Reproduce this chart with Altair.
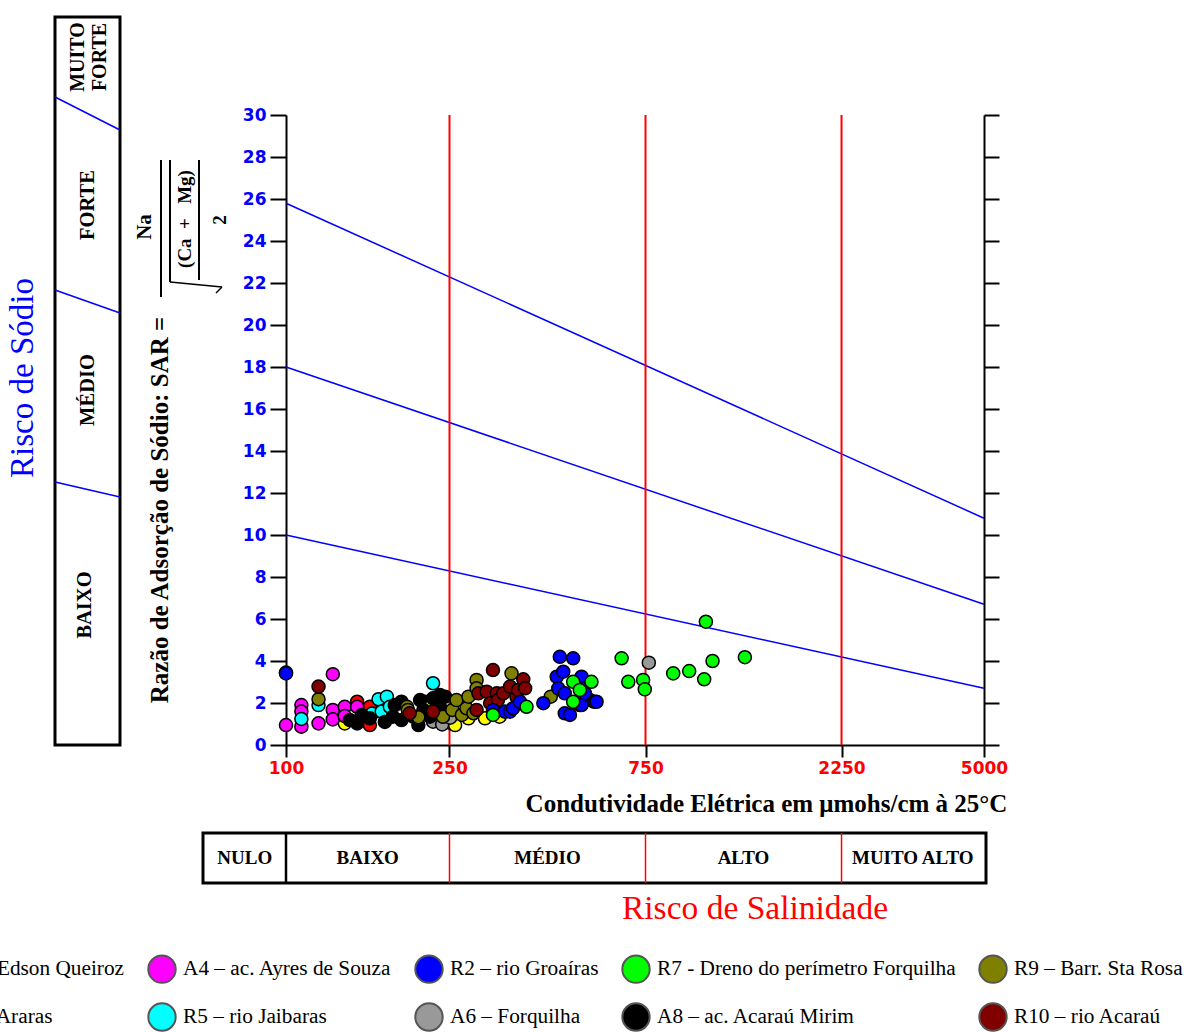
import altair as alt
import numpy as np
import pandas as pd

SERIF = "Liberation Serif"
SANS = "DejaVu Sans"
NBSP = "\u00a0"

# Sampling sites, in legend order (row by row) and their colours
sites = [
    "A1 – ac. Edson Queiroz", "A4 – ac. Ayres de Souza", "R2 – rio Groaíras",
    "R7 - Dreno do perímetro Forquilha", "R9 – Barr. Sta Rosa",
    "A3 – ac. Araras", "R5 – rio Jaibaras", "A6 – Forquilha",
    "A8 – ac. Acaraú Mirim", "R10 – rio Acaraú",
]
site_colors = [
    "#FFFF00", "#FF00FF", "#0000FF", "#00FF00", "#808000",
    "#FF0000", "#00FFFF", "#999999", "#000000", "#800000",
]

# Electrical conductivity (umhos/cm at 25 C) and SAR of each sample
ec_a1 = [100, 139, 218, 253, 258, 278, 305, 331]
sar_a1 = [3.45, 1.03, 2.06, 1.03, 0.95, 1.27, 1.27, 1.35]

ec_a3 = [149, 160, 160, 172]
sar_a3 = [2.06, 1.82, 0.95, 1.59]

ec_a6 = [228, 240, 251, 764]
sar_a6 = [1.11, 0.98, 1.30, 3.92]

ec_a4 = [100, 109, 109, 109, 120, 130, 130, 130, 139, 139, 149]
sar_a4 = [0.95, 1.90, 1.59, 0.87, 1.03, 3.37, 1.67, 1.22, 1.82, 1.38, 1.82]

ec_r5 = [109, 120, 162, 168, 171, 176, 179, 228]
sar_r5 = [1.24, 1.90, 1.50, 2.18, 1.59, 2.30, 1.82, 2.94]

ec_a8 = [143, 149, 153, 160, 174, 182, 184, 191, 191, 204,
         210, 212, 216, 224, 228, 233, 237, 237, 241, 244]
sar_a8 = [1.19, 1.03, 1.43, 1.27, 1.10, 1.35, 1.90, 2.06, 1.19, 1.35,
          0.95, 2.14, 1.67, 1.35, 2.22, 2.06, 2.38, 1.82, 1.35, 2.30]

ec_r9 = [120, 197, 198, 210, 241, 254, 260, 268, 275, 278, 286, 291, 291, 354, 441, 549]
sar_r9 = [2.18, 1.82, 1.67, 1.32, 1.35, 1.67, 2.14, 1.43, 1.75, 2.30, 1.51, 3.10, 2.70, 3.41, 2.30, 2.14]

ec_r10 = [120, 200, 228, 291, 294, 308, 314, 319, 326, 328, 338, 351, 364, 367, 378, 382]
sar_r10 = [2.78, 1.51, 1.59, 1.67, 2.46, 2.54, 1.99, 3.57, 2.46, 2.14, 2.46, 2.78, 2.30, 2.62, 3.13, 2.70]

ec_r2 = [100, 319, 341, 351, 357, 371, 423, 456, 460, 464, 473,
         477, 477, 491, 500, 519, 524, 524, 529, 534, 563, 570]
sar_r2 = [3.41, 1.67, 1.59, 1.59, 1.75, 2.06, 1.99, 3.25, 2.70, 4.20, 3.49,
          2.46, 1.51, 1.43, 4.13, 1.90, 3.25, 1.90, 2.70, 2.46, 2.06, 2.06]

ec_r7 = [319, 385, 500, 500, 519, 554, 656, 681, 740, 747, 876, 958, 1042, 1052, 1092, 1309]
sar_r7 = [1.43, 1.82, 3.01, 2.06, 2.62, 3.01, 4.13, 3.01, 3.10, 2.65, 3.41, 3.52, 3.13, 5.87, 4.00, 4.18]

# Sodium hazard boundaries: SAR at EC = 100 and at EC = 5000
ec_ends = [100, 5000]
sodium_low = [10.0, 18.0, 25.8]
sodium_high = [2.7, 6.7, 10.8]

# Salinity hazard class limits and names
salinity_limits = [250, 750, 2250]
class_lo = [63, 100, 250, 750, 2250]
class_hi = [100, 250, 750, 2250, 5000]
class_names = ["NULO", "BAIXO", "MÉDIO", "ALTO", "MUITO ALTO"]

# ---------------------------------------------------------------- tables
draw_order = [
    (sites[0], ec_a1, sar_a1), (sites[5], ec_a3, sar_a3), (sites[7], ec_a6, sar_a6),
    (sites[1], ec_a4, sar_a4), (sites[6], ec_r5, sar_r5), (sites[8], ec_a8, sar_a8),
    (sites[4], ec_r9, sar_r9), (sites[9], ec_r10, sar_r10), (sites[2], ec_r2, sar_r2),
    (sites[3], ec_r7, sar_r7),
]
points = pd.concat(
    [pd.DataFrame({"site": n, "ec": e, "sar": s}) for n, e, s in draw_order],
    ignore_index=True,
)

bounds = pd.DataFrame(
    [{"limit": i, "ec": ec_ends[0], "sar": lo} for i, lo in enumerate(sodium_low)]
    + [{"limit": i, "ec": ec_ends[1], "sar": hi} for i, hi in enumerate(sodium_high)]
)
limits = pd.DataFrame({"ec": salinity_limits})
classes = pd.DataFrame({
    "name": class_names,
    "ec": np.sqrt(np.array(class_lo) * np.array(class_hi)),
})

W, H = 698, 630

x_enc = alt.X(
    "ec:Q",
    scale=alt.Scale(type="log", domain=[100, 5000], nice=False),
    axis=alt.Axis(
        values=[100, 250, 750, 2250, 5000], format="d", grid=False,
        domainColor="black", domainWidth=2, tickColor="black", tickWidth=2,
        tickSize=12, labelColor="#FF0000", labelFont=SANS, labelFontWeight="bold",
        labelFontSize=17, labelPadding=3, labelFlush=False,
        title="Condutividade Elétrica em μmohs/cm à 25°C", titleFont=SERIF,
        titleFontWeight="bold", titleFontSize=25, titleColor="black",
        titleX=480, titleY=58, titleAlign="center", titleBaseline="middle",
    ),
)
y_scale = alt.Scale(domain=[0, 30], nice=False)
y_left = alt.Y(
    "sar:Q", scale=y_scale,
    axis=alt.Axis(
        orient="left", values=list(range(0, 31, 2)), grid=False, title=None,
        domainColor="black", domainWidth=2, tickColor="black", tickWidth=2,
        tickSize=16, labelColor="#0000FF", labelFont=SANS, labelFontWeight="bold",
        labelFontSize=17, labelPadding=4,
    ),
)
y_right = alt.Y(
    "sar:Q", scale=y_scale,
    axis=alt.Axis(
        orient="right", values=list(range(0, 31, 2)), grid=False, title=None,
        labels=False, domainColor="black", domainWidth=2, tickColor="black",
        tickWidth=2, tickSize=15,
    ),
)

one = pd.DataFrame({"k": [0]})


def label(text, x, y, size, color="black", weight="normal", angle=0):
    return alt.Chart(pd.DataFrame({"t": [text]})).mark_text(
        font=SERIF, fontSize=size, fontWeight=weight, color=color, angle=angle,
        align="center", baseline="middle",
    ).encode(x=alt.value(x), y=alt.value(y), text="t:N")


def segment(x1, y1, x2, y2, color="black", width=2):
    return alt.Chart(one).mark_rule(color=color, strokeWidth=width).encode(
        x=alt.value(x1), y=alt.value(y1), x2=alt.value(x2), y2=alt.value(y2)
    )


def box(x1, y1, x2, y2):
    return alt.Chart(one).mark_rect(fillOpacity=0, stroke="black", strokeWidth=3).encode(
        x=alt.value(x1), x2=alt.value(x2), y=alt.value(y1), y2=alt.value(y2)
    )


# sodium hazard boundary lines, carrying the right-hand axis
sodium = alt.Chart(bounds).mark_line(color="#0000FF", strokeWidth=1.5).encode(
    x=x_enc, y=y_right, detail="limit:N"
)

# salinity class limits across the plot
salinity = alt.Chart(limits).mark_rule(color="#FF0000", strokeWidth=2).encode(
    x=x_enc, y=alt.value(0), y2=alt.value(H)
)

scatter = alt.Chart(points).mark_circle(
    size=170, opacity=1, stroke="black", strokeWidth=1.5
).encode(
    x=x_enc,
    y=y_left,
    color=alt.Color(
        "site:N",
        scale=alt.Scale(domain=sites, range=site_colors),
        legend=alt.Legend(
            orient="none", legendX=-402, legendY=839, columns=5,
            direction="horizontal", title=None, labelFont=SERIF, labelFontSize=21.3,
            labelColor="black", labelLimit=600, symbolType="circle", symbolSize=750,
            symbolStrokeColor="#555555", symbolStrokeWidth=2, symbolOpacity=1,
            labelOffset=6, columnPadding=19, rowPadding=12, padding=0,
        ),
    ),
)

# salinity hazard band below the plot
band_box = box(-83, 718, 700, 768)
band_first = alt.Chart(pd.DataFrame({"ec": class_hi[:1]})).mark_rule(
    color="black", strokeWidth=2.5
).encode(x=x_enc, y=alt.value(718), y2=alt.value(768))
band_red = alt.Chart(limits).mark_rule(color="#FF0000", strokeWidth=1.5).encode(
    x=x_enc, y=alt.value(718), y2=alt.value(768)
)
band_text = alt.Chart(classes).mark_text(
    font=SERIF, fontSize=19, fontWeight="bold", color="black"
).encode(x=x_enc, y=alt.value(743), text="name:N")

# sodium hazard band on the left
sod_box = box(-231, -98, -166, 630)
sod_lines = (
    segment(-231, 367, -166, 382, "#0000FF", 1.5)
    + segment(-231, 175, -166, 198, "#0000FF", 1.5)
    + segment(-231, -18, -166, 15, "#0000FF", 1.5)
)
sod_text = (
    label("BAIXO", -201, 490, 20.5, weight="bold", angle=270)
    + label("MÉDIO", -198, 275, 20.5, weight="bold", angle=270)
    + label("FORTE", -198, 90, 20.5, weight="bold", angle=270)
    + label("MUITO", -208, -58, 20, weight="bold", angle=270)
    + label("FORTE", -186, -58, 20, weight="bold", angle=270)
)

# SAR formula beside the y axis
ca_mg = "(Ca" + NBSP * 2 + "+" + NBSP * 3 + "Mg)"
formula = (
    label("Razão de Adsorção de Sódio: SAR =", -126, 395, 25, weight="bold", angle=270)
    + label("Na", -141, 112, 21, weight="bold", angle=270)
    + segment(-125, 45, -125, 182, width=2)
    + segment(-116, 45, -116, 167, width=2)
    + label(ca_mg, -101, 104, 19, weight="bold", angle=270)
    + segment(-87, 45, -87, 165, width=2)
    + label("2", -66, 105, 19, weight="bold", angle=270)
    + segment(-116, 167, -64, 172, width=1.5)
    + segment(-64, 172, -70, 178, width=1.5)
)

titles = (
    label("Risco de Sódio", -263, 263, 33, color="#0000FF", angle=270)
    + label("Risco de Salinidade", 469, 794, 33.5, color="#FF0000")
)

chart = (
    alt.layer(
        sodium, salinity, scatter,
        band_box, band_first, band_red, band_text,
        sod_box, sod_lines, sod_text, formula, titles,
    )
    .resolve_axis(y="independent")
    .properties(
        width=W, height=H,
        autosize=alt.AutoSizeParams(type="none"),
        padding={"left": 286, "top": 115, "right": 205, "bottom": 287},
        background="white",
    )
    .configure_view(stroke=None)
)

chart.save("out.html", embed_options={"renderer": "svg", "actions": False})
